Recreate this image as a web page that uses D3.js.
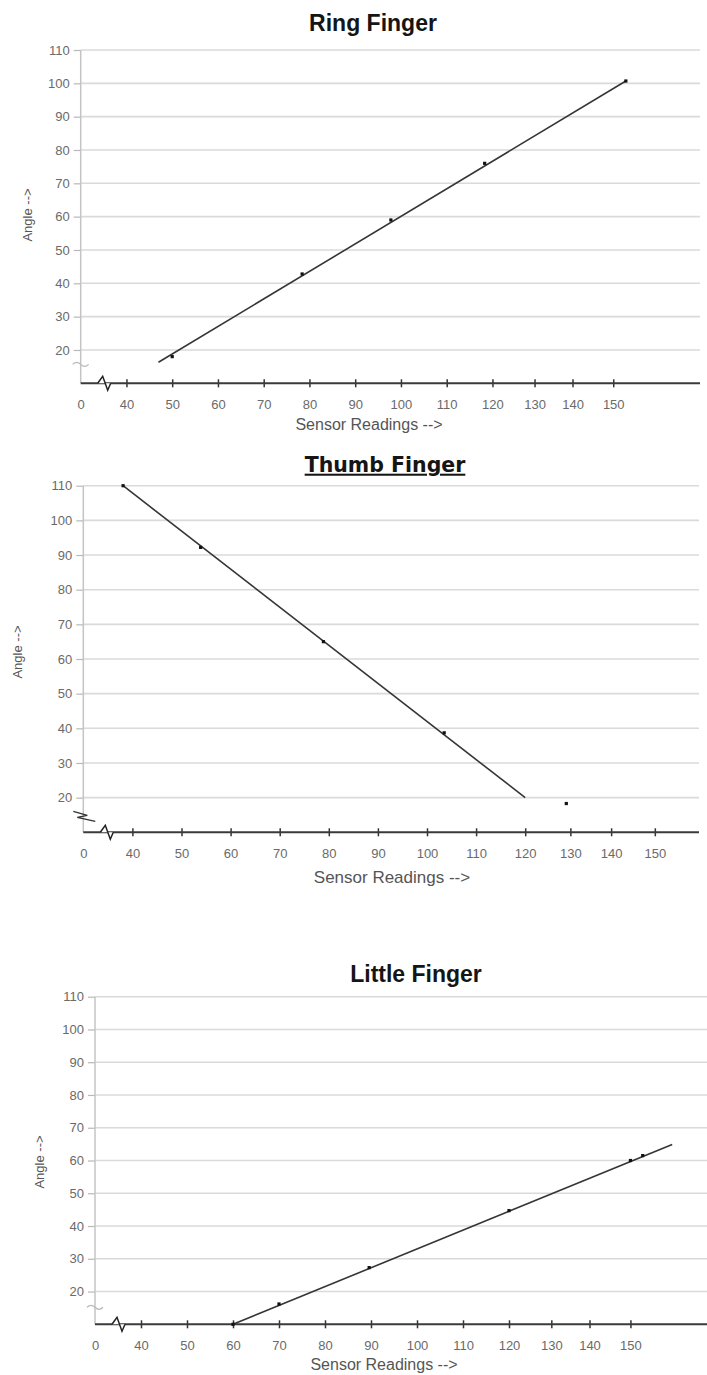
<!DOCTYPE html>
<html>
<head>
<meta charset="utf-8">
<script src="https://cdn.jsdelivr.net/npm/d3@7"></script>
<style>
  html, body { margin: 0; padding: 0; background: #fff; }
  svg { display: block; }
</style>
</head>
<body>
<svg id="chart" width="707" height="1375"></svg>
<script>
// ---------------- DATA ----------------
const chartTitles = ["Ring Finger", "Thumb Finger", "Little Finger"];
const xAxisTitle = "Sensor Readings -->";
const yAxisTitle = "Angle -->";

// x ticks (first tick is the broken origin, labelled "0")
const xTickValues = [30, 40, 50, 60, 70, 80, 90, 100, 110, 120, 130, 140, 150];
const xTickLabels = ["0", "40", "50", "60", "70", "80", "90", "100", "110", "120", "130", "140", "150"];
const yTickValues = [20, 30, 40, 50, 60, 70, 80, 90, 100, 110];

// Ring finger
const ringX = [50, 78.4, 97.8, 118.3, 153.1];
const ringY = [18, 42.8, 59, 76, 100.7];
const ringTrendX = [47, 153.1];
const ringTrendY = [16.3, 100.7];

// Thumb finger
const thumbX = [38.1, 53.9, 78.9, 103.5, 129.1];
const thumbY = [110, 92.2, 65, 38.7, 18.3];
const thumbTrendX = [38.1, 120];
const thumbTrendY = [110, 20];

// Little finger
const littleX = [60, 70, 89.6, 120, 150, 153];
const littleY = [10, 16.2, 27.3, 44.7, 60, 61.5];
const littleTrendX = [60, 160.2];
const littleTrendY = [10, 64.9];

// ---------------- LAYOUT ----------------
// the hand-drawn x axis has uneven spacing after 120
const xStops = [30, 120, 130, 140, 150, 160, 170];
const xStopUnits = [0, 9, 9.92, 10.75, 11.64, 12.53, 13.42];

const layouts = [
  { x0: 80.7, step: 45.75, right: 700, yBottom: 383.3, yTop: 50,
    titleX: 373, titleY: 31, titleFont: "Liberation Sans, Arial, sans-serif", titleSize: 23, underline: false,
    yLabX: 27, yLabY: 215, xLabX: 369, xLabY: 430, xLabSize: 16, breakY: 16, breakDark: false },
  { x0: 83.3, step: 49.1, right: 699, yBottom: 832.3, yTop: 485.7,
    titleX: 385, titleY: 471.7, titleFont: "DejaVu Sans, Verdana, sans-serif", titleSize: 20.5, underline: true,
    yLabX: 17, yLabY: 652, xLabX: 392, xLabY: 883, xLabSize: 17, breakY: 14.6, breakDark: true },
  { x0: 95, step: 46, right: 707, yBottom: 1324.3, yTop: 996.7,
    titleX: 416, titleY: 981.7, titleFont: "Liberation Sans, Arial, sans-serif", titleSize: 23, underline: false,
    yLabX: 39, yLabY: 1162, xLabX: 384, xLabY: 1370, xLabSize: 16, breakY: 15.5, breakDark: false }
];

const series = [
  { xs: ringX, ys: ringY, tx: ringTrendX, ty: ringTrendY },
  { xs: thumbX, ys: thumbY, tx: thumbTrendX, ty: thumbTrendY },
  { xs: littleX, ys: littleY, tx: littleTrendX, ty: littleTrendY }
];

const svg = d3.select("#chart");
svg.append("rect").attr("width", 707).attr("height", 1375).attr("fill", "#fff");

const labelFont = "Liberation Sans, Arial, sans-serif";

layouts.forEach((L, ci) => {
  const S = series[ci];
  const g = svg.append("g");

  const x = d3.scaleLinear()
    .domain(xStops)
    .range(xStopUnits.map(u => L.x0 + u * L.step));
  const y = d3.scaleLinear().domain([10, 110]).range([L.yBottom, L.yTop]);

  // gridlines
  g.append("g").selectAll("line").data(yTickValues).join("line")
    .attr("x1", L.x0).attr("x2", L.right)
    .attr("y1", d => y(d)).attr("y2", d => y(d))
    .attr("stroke", "#dadada").attr("stroke-width", 1.6);

  // y axis
  const yAxis = g.append("g").attr("transform", `translate(${L.x0},0)`)
    .call(d3.axisLeft(y).tickValues(yTickValues).tickSize(7).tickPadding(4));
  yAxis.select(".domain").remove();
  yAxis.selectAll(".tick line").attr("stroke", "#b8b8b8").attr("stroke-width", 1.2);
  yAxis.selectAll(".tick text")
    .attr("fill", "#6a6a6a").attr("font-family", labelFont).attr("font-size", 13);

  g.append("line")
    .attr("x1", L.x0).attr("x2", L.x0)
    .attr("y1", y(10)).attr("y2", y(110))
    .attr("stroke", "#c4c4c4").attr("stroke-width", 1.5);

  // y-axis break mark
  const by = y(L.breakY);
  if (L.breakDark) {
    g.append("path")
      .attr("d", `M${L.x0 - 10},${by - 5} L${L.x0 + 4},${by - 1} L${L.x0 - 6},${by + 1} L${L.x0 + 12},${by + 5}`)
      .attr("fill", "none").attr("stroke", "#333").attr("stroke-width", 1.3);
  } else {
    g.append("path")
      .attr("d", `M${L.x0 - 8},${by + 1} q4,-4 8,0 t8,0`)
      .attr("fill", "none").attr("stroke", "#bbb").attr("stroke-width", 1.2);
  }

  // x axis
  const xAxis = g.append("g").attr("transform", `translate(0,${L.yBottom})`)
    .call(d3.axisBottom(x).tickValues(xTickValues)
      .tickFormat((d, i) => xTickLabels[i]).tickSize(0));
  xAxis.select(".domain").remove();
  xAxis.selectAll(".tick line")
    .attr("y1", -4).attr("y2", 4)
    .attr("stroke", "#333").attr("stroke-width", 1.5);
  xAxis.select(".tick line").remove();
  xAxis.selectAll(".tick text")
    .attr("y", 26).attr("dy", 0)
    .attr("fill", "#6a6a6a").attr("font-family", labelFont).attr("font-size", 13);

  g.append("line")
    .attr("x1", L.x0).attr("x2", L.right)
    .attr("y1", L.yBottom).attr("y2", L.yBottom)
    .attr("stroke", "#3a3a3a").attr("stroke-width", 2);

  // x-axis break zigzag
  const bx = L.x0 + 24;
  g.append("path")
    .attr("d", `M${bx - 7},${L.yBottom} L${bx - 2},${L.yBottom - 7} L${bx + 3},${L.yBottom + 7} L${bx + 6},${L.yBottom}`)
    .attr("fill", "#fff").attr("stroke", "#222").attr("stroke-width", 1.5);

  // trend line
  const trend = S.tx.map((v, i) => [v, S.ty[i]]);
  g.append("path")
    .datum(trend)
    .attr("d", d3.line().x(d => x(d[0])).y(d => y(d[1])))
    .attr("fill", "none").attr("stroke", "#353535").attr("stroke-width", 1.6);

  // points
  const pts = S.xs.map((v, i) => [v, S.ys[i]]);
  g.append("g").selectAll("rect").data(pts).join("rect")
    .attr("x", d => x(d[0]) - 1.6).attr("y", d => y(d[1]) - 1.6)
    .attr("width", 3.2).attr("height", 3.2)
    .attr("fill", "#111");

  // title
  g.append("text")
    .attr("x", L.titleX).attr("y", L.titleY)
    .attr("text-anchor", "middle")
    .attr("font-family", L.titleFont).attr("font-weight", "bold")
    .attr("font-size", L.titleSize).attr("fill", "#151515")
    .style("text-decoration", L.underline ? "underline" : "none")
    .text(chartTitles[ci]);

  // axis titles
  g.append("text")
    .attr("x", L.xLabX).attr("y", L.xLabY)
    .attr("text-anchor", "middle")
    .attr("font-family", labelFont).attr("font-size", L.xLabSize)
    .attr("fill", "#555")
    .text(xAxisTitle);

  g.append("text")
    .attr("transform", `translate(${L.yLabX},${L.yLabY}) rotate(-90)`)
    .attr("text-anchor", "middle").attr("dy", "0.35em")
    .attr("font-family", labelFont).attr("font-size", 13)
    .attr("fill", "#555")
    .text(yAxisTitle);
});
</script>
</body>
</html>
